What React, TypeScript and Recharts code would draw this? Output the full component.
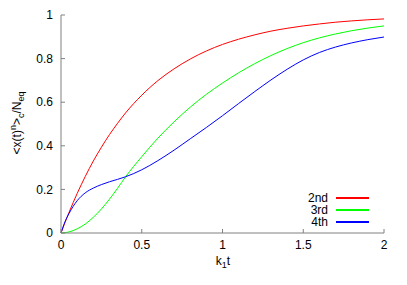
import React from 'react';
import { LineChart, Line, XAxis, YAxis, Legend, Label } from 'recharts';

const tValues = [0, 0.025, 0.05, 0.1, 0.15, 0.2, 0.25, 0.3, 0.35, 0.4, 0.5, 0.6, 0.7, 0.8, 0.9, 1.0, 1.1, 1.2, 1.3, 1.4, 1.5, 1.6, 1.7, 1.8, 1.9, 2.0];
const second = [0, 0.049, 0.095, 0.181, 0.259, 0.33, 0.393, 0.451, 0.503, 0.551, 0.632, 0.699, 0.753, 0.798, 0.835, 0.865, 0.889, 0.909, 0.926, 0.939, 0.95, 0.959, 0.967, 0.973, 0.978, 0.982];
const third = [0, 0.0013, 0.005, 0.019, 0.041, 0.072, 0.11, 0.155, 0.205, 0.258, 0.35, 0.435, 0.51, 0.577, 0.636, 0.688, 0.735, 0.777, 0.814, 0.846, 0.873, 0.895, 0.913, 0.928, 0.94, 0.95];
const fourth = [0, 0.052, 0.09, 0.148, 0.184, 0.206, 0.222, 0.235, 0.246, 0.258, 0.29, 0.332, 0.38, 0.432, 0.484, 0.538, 0.594, 0.649, 0.702, 0.751, 0.794, 0.828, 0.853, 0.872, 0.887, 0.899];

const xTicks = [0, 0.5, 1, 1.5, 2];
const yTicks = [0, 0.2, 0.4, 0.6, 0.8, 1];
const seriesNames = ['2nd', '3rd', '4th'];

const data = tValues.map((t, i) => ({ t, s2: second[i], s3: third[i], s4: fourth[i] }));

const FONT = '"Liberation Sans", Arial, Helvetica, sans-serif';
const FRAME = '#808080';

const YLabel = () => (
  <text
    transform="translate(20.5,123) rotate(-90)"
    x={0}
    y={0}
    textAnchor="middle"
    fontFamily={FONT}
    fontSize={12}
    fill="#000"
  >
    <tspan>&lt;x(t)</tspan>
    <tspan fontSize={9} dy={-5}>n</tspan>
    <tspan dy={5}>&gt;</tspan>
    <tspan fontSize={9} dy={3}>c</tspan>
    <tspan dy={-3}>/N</tspan>
    <tspan fontSize={9} dy={3}>eq</tspan>
  </text>
);

const XLabel = () => (
  <text x={223} y={265} textAnchor="middle" fontFamily={FONT} fontSize={12} fill="#000">
    <tspan>k</tspan>
    <tspan fontSize={9} dy={3}>1</tspan>
    <tspan dy={-3}>t</tspan>
  </text>
);

const LegendContent = (props: any) => {
  const payload = props.payload || [];
  return (
    <div style={{ fontFamily: FONT, fontSize: 12, color: '#000' }}>
      {payload.map((p: any) => (
        <div key={p.value} style={{ display: 'flex', alignItems: 'center', height: 12 }}>
          <div style={{ width: 48, textAlign: 'right', lineHeight: '12px', height: 12 }}>{p.value}</div>
          <div style={{ width: 8 }} />
          <div style={{ width: 33, height: 1.5, background: p.color }} />
        </div>
      ))}
    </div>
  );
};

export default function App() {
  return (
    <div style={{ position: 'absolute', left: 0, top: 0 }}>
      <LineChart width={407} height={285} data={data} margin={{ top: 15, right: 23, bottom: 0, left: 0 }}>
        <XAxis
          dataKey="t"
          type="number"
          domain={[0, 2]}
          ticks={xTicks}
          height={52}
          stroke={FRAME}
          tickSize={-4}
          tickMargin={11}
          tick={{ fill: '#000', fontSize: 12, fontFamily: FONT }}
          tickFormatter={(v: number) => String(v)}
        >
          <Label content={<XLabel />} />
        </XAxis>
        <XAxis
          xAxisId="top"
          dataKey="t"
          type="number"
          orientation="top"
          domain={[0, 2]}
          ticks={xTicks}
          height={0}
          stroke={FRAME}
          tickSize={-4}
          tickFormatter={() => ''}
        />
        <YAxis
          type="number"
          domain={[0, 1]}
          ticks={yTicks}
          width={61}
          stroke={FRAME}
          tickSize={-4}
          tickMargin={12}
          tick={{ fill: '#000', fontSize: 12, fontFamily: FONT }}
          tickFormatter={(v: number) => String(v)}
        >
          <Label content={<YLabel />} />
        </YAxis>
        <YAxis
          yAxisId="right"
          type="number"
          orientation="right"
          domain={[0, 1]}
          ticks={yTicks}
          width={0}
          stroke="#333"
          tickSize={-4}
          tickFormatter={() => ''}
        />
        <Legend
          layout="vertical"
          align="center"
          verticalAlign="middle"
          content={<LegendContent />}
          wrapperStyle={{ left: 280, top: 192, width: 95, height: 36 }}
        />
        <Line name={seriesNames[0]} dataKey="s2" type="monotone" stroke="#ff0000" strokeWidth={1} dot={false} isAnimationActive={false} />
        <Line name={seriesNames[1]} dataKey="s3" type="monotone" stroke="#00ff00" strokeWidth={1} dot={false} isAnimationActive={false} />
        <Line name={seriesNames[2]} dataKey="s4" type="monotone" stroke="#0000ff" strokeWidth={1} dot={false} isAnimationActive={false} />
      </LineChart>
    </div>
  );
}
